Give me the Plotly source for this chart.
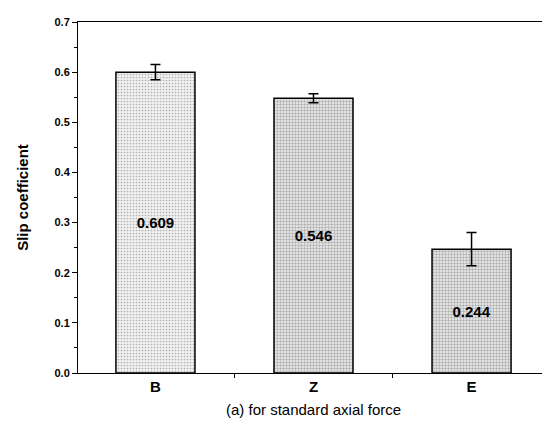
import plotly.graph_objects as go

categories = ["B", "Z", "E"]
bar_heights = [0.600, 0.548, 0.247]
errors = [0.015, 0.009, 0.033]
value_labels = ["0.609", "0.546", "0.244"]
pattern_solidity = [0.25, 0.5, 0.5]

fig = go.Figure()
fig.add_trace(go.Bar(
    x=categories,
    y=bar_heights,
    width=0.5,
    text=value_labels,
    textposition="inside",
    insidetextanchor="middle",
    textangle=0,
    textfont=dict(family="Liberation Sans, Arial", size=15, color="black", weight="bold"),
    marker=dict(
        color="white",
        line=dict(color="black", width=1.5),
        pattern=dict(shape=".", fgcolor="#707070", bgcolor="#f0f0f0", size=3, solidity=pattern_solidity),
    ),
    error_y=dict(type="data", array=errors, visible=True, color="black", thickness=1.5, width=5),
))

fig.update_layout(
    width=550, height=427,
    margin=dict(l=70, r=8, t=12, b=62),
    paper_bgcolor="white", plot_bgcolor="white",
    showlegend=False,
    font=dict(family="Liberation Sans, Arial", color="black"),
    annotations=[dict(
        text="(a) for standard axial force", xref="paper", yref="paper",
        x=0.5, y=-0.105, xanchor="center", yanchor="middle", showarrow=False,
        font=dict(size=15, family="Liberation Sans, Arial", color="black"),
    )],
)
fig.update_xaxes(
    type="category", range=[-0.49, 2.49],
    showline=True, linecolor="black", linewidth=1, mirror=True,
    ticks="outside", tickson="boundaries", ticklen=4, tickcolor="black",
    showgrid=False,
    tickfont=dict(size=15, weight="bold"),
)
fig.update_yaxes(
    range=[0, 0.7], dtick=0.1, tickformat=".1f",
    showline=True, linecolor="black", linewidth=1, mirror=True,
    ticks="outside", ticklen=5, tickcolor="black",
    minor=dict(dtick=0.05, ticks="outside", ticklen=3, tickcolor="black"),
    showgrid=False, zeroline=False,
    tickfont=dict(size=11, weight="bold"),
    title=dict(text="Slip coefficient", font=dict(size=15, weight="bold"), standoff=22),
)

fig.write_html("out.html")
